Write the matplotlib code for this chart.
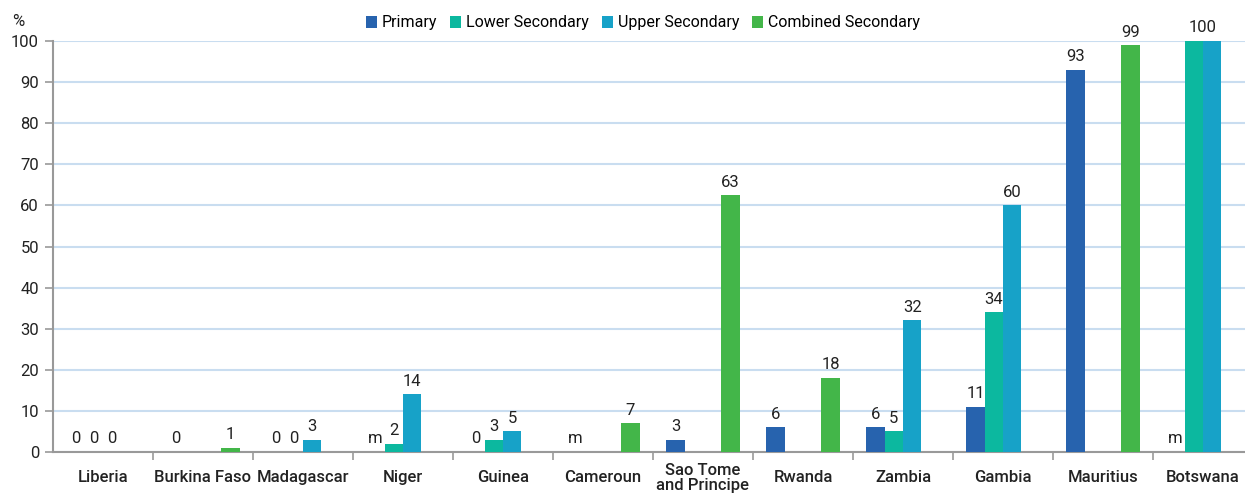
import matplotlib
matplotlib.use("Agg")
import matplotlib.pyplot as plt
from matplotlib.patches import Patch
import numpy as np

plt.rcParams['font.family'] = ['Roboto', 'DejaVu Sans']

countries = ["Liberia", "Burkina Faso", "Madagascar", "Niger", "Guinea", "Cameroun",
             "Sao Tome\nand Principe", "Rwanda", "Zambia", "Gambia", "Mauritius", "Botswana"]
series = ["Primary", "Lower Secondary", "Upper Secondary", "Combined Secondary"]
colors = ["#2763AE", "#0CB89F", "#17A2C8", "#43B649"]

# None = no data shown; labels hold the printed text ('' = none, 'm' = missing)
primary   = [0, 0, 0, None, 0, None, 3, 6, 6, 11, 93, None]
lower     = [0, None, 0, 2, 3, None, None, None, 5, 34, None, 100]
upper     = [0, None, 3, 14, 5, None, None, None, 32, 60, None, 100]
combined  = [None, 1, None, None, None, 7, 62.5, 18, None, None, 99, None]

primary_lbl  = ["0", "0", "0", "m", "0", "m", "3", "6", "6", "11", "93", "m"]
lower_lbl    = ["0", "", "0", "2", "3", "", "", "", "5", "34", "", ""]
upper_lbl    = ["0", "", "3", "14", "5", "", "", "", "32", "60", "", ""]
combined_lbl = ["", "1", "", "", "", "7", "63", "18", "", "", "99", ""]
# one label shared by Lower and Upper Secondary (Botswana)
shared_lbl   = ["", "", "", "", "", "", "", "", "", "", "", "100"]

values = [primary, lower, upper, combined]
labels = [primary_lbl, lower_lbl, upper_lbl, combined_lbl]

fig = plt.figure(figsize=(12.45, 4.93), dpi=100)
ax = fig.add_axes([53/1245, 1-452/493, 1200/1245, 411/493])

n = len(countries)
x = np.arange(n)
w = 0.183
offsets = [-1.5*w, -0.5*w, 0.5*w, 1.5*w]
lbl_kw = dict(xytext=(0, 4), textcoords='offset points', ha='center', va='bottom',
              fontsize=12, color='#222222', zorder=4)

for vals, lbls, col, off in zip(values, labels, colors, offsets):
    for i in range(n):
        v = vals[i]
        if v is not None and v > 0:
            ax.bar(x[i] + off, v, width=w, color=col, edgecolor='none', zorder=3)
        t = lbls[i]
        if t:
            h = v if (v is not None) else 0
            ax.annotate(t, (x[i] + off, h), **lbl_kw)

for i in range(n):
    if shared_lbl[i]:
        h = max(lower[i] or 0, upper[i] or 0)
        ax.annotate(shared_lbl[i], (x[i], h), **lbl_kw)

ax.set_xlim(-0.5, n - 0.5)
ax.set_ylim(0, 100)
ax.set_yticks(np.arange(0, 101, 10))
ax.yaxis.grid(True, color='#C9DDF0', linewidth=1.5, zorder=0)
ax.set_axisbelow(True)

ax.set_xticks(np.arange(0.5, n - 0.5, 1))
ax.set_xticklabels([])
ax.tick_params(axis='x', length=6, color='#999999', width=1.2)
ax.tick_params(axis='y', length=6, color='#999999', width=1.2, labelsize=12, labelcolor='#222222', pad=4)
for i, c in enumerate(countries):
    ax.text(x[i], -6.3, c, ha='center', va='center', linespacing=1.05,
            fontsize=12, color='#222222', fontweight='medium', clip_on=False)

for s in ['top', 'right']:
    ax.spines[s].set_visible(False)
ax.spines['left'].set_color('#999999')
ax.spines['left'].set_linewidth(1.5)
ax.spines['bottom'].set_color('#999999')
ax.spines['bottom'].set_linewidth(1.5)

fig.text(12/1245, 1-22/493, "%", fontsize=12, color='#222222', va='center', ha='left')

handles = [Patch(facecolor=c, edgecolor='none') for c in colors]
fig.legend(handles, series, loc='center', bbox_to_anchor=(643/1245, 1-23/493), ncol=4,
           frameon=False, fontsize=11.5, handlelength=0.7, handleheight=0.7,
           handletextpad=0.3, columnspacing=0.8)

fig.savefig("out.png", dpi=100)
